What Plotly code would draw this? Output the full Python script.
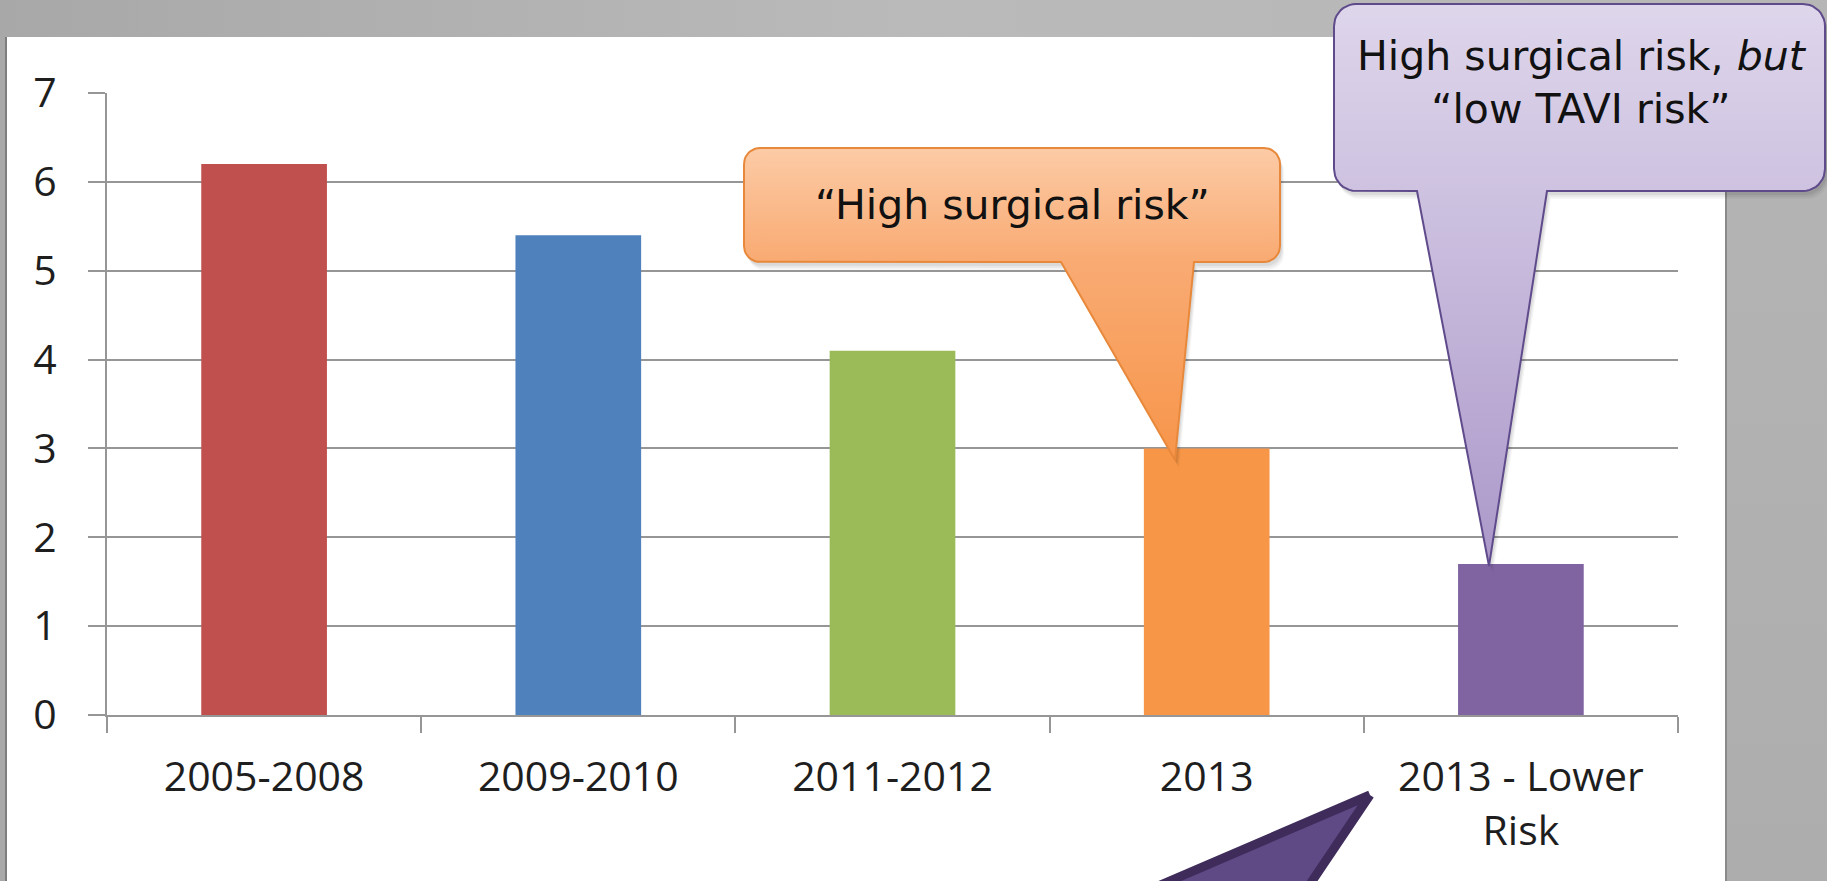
import math
import plotly.graph_objects as go

# ---- chart data ----
categories = ["2005-2008", "2009-2010", "2011-2012", "2013", "2013 - Lower<br>Risk"]
values = [6.2, 5.4, 4.1, 3.0, 1.7]
bar_colors = ["#c0504d", "#4f81bd", "#9bbb59", "#f79646", "#8064a2"]
y_tick_values = [0, 1, 2, 3, 4, 5, 6, 7]

orange_note = "“High surgical risk”"
purple_note = "High surgical risk, <i>but</i><br>“low TAVI risk”"

# ---- page geometry (pixels) ----
W, H = 1827, 881
PLOT_X0, PLOT_X1 = 107, 1678      # value axis / last category boundary
PLOT_Y_TOP, PLOT_Y_BOT = 93, 715  # y = 7 and y = 0
FRAME_RIGHT = 1725                # where the white slide area ends

TICK_FONT = dict(family="Open Sans, Lato, sans-serif", size=41, color="#1e1e1e")
NOTE_FONT = dict(family="DejaVu Sans, Verdana, sans-serif", size=41, color="#111111")


def callout_outline(x0, y0, x1, y1, r, base_l, base_r, tip, n=10):
    """Rounded box with a triangular pointer hanging from its bottom edge."""
    pts = []

    def arc(cx, cy, a0, a1):
        for i in range(n + 1):
            a = a0 + (a1 - a0) * i / n
            pts.append((cx + r * math.cos(a), cy + r * math.sin(a)))

    arc(x0 + r, y0 + r, math.pi, 1.5 * math.pi)
    arc(x1 - r, y0 + r, 1.5 * math.pi, 2 * math.pi)
    arc(x1 - r, y1 - r, 0, 0.5 * math.pi)
    pts.append((base_r, y1))
    pts.append(tip)
    pts.append((base_l, y1))
    arc(x0 + r, y1 - r, 0.5 * math.pi, math.pi)
    pts.append(pts[0])
    return [p[0] for p in pts], [p[1] for p in pts]


fig = go.Figure()

# bars on the main axes
fig.add_trace(go.Bar(
    x=categories, y=values, marker=dict(color=bar_colors, line=dict(width=0)),
    width=0.4, hoverinfo="skip", showlegend=False,
))

# ---- decoration layer in page pixels (x2/y2) ----
def deco(xs, ys, **kw):
    fig.add_trace(go.Scatter(x=xs, y=ys, xaxis="x2", yaxis="y2", mode="lines",
                             hoverinfo="skip", showlegend=False, **kw))

# grey slide frame
deco([0, W, W, 0, 0], [0, 0, 37, 37, 0], fill="toself", line=dict(width=0),
     fillgradient=dict(type="horizontal", start=0, stop=W,
                       colorscale=[[0, "#a8a8a8"], [0.5, "#bababa"], [1, "#b6b6b6"]]))
deco([FRAME_RIGHT, W, W, FRAME_RIGHT, FRAME_RIGHT], [37, 37, H, H, 37], fill="toself",
     line=dict(width=0),
     fillgradient=dict(type="vertical", start=37, stop=H,
                       colorscale=[[0, "#b5b5b5"], [1, "#adadad"]]))
deco([0, 6, 6, 0, 0], [37, 37, H, H, 37], fill="toself", fillcolor="#a9a9a9", line=dict(width=0))
deco([6, 6], [37, H], line=dict(color="#7e7e7e", width=2))
deco([FRAME_RIGHT + 1, FRAME_RIGHT + 1], [37, H], line=dict(color="#8a8a8a", width=2))

# orange callout
ox, oy = callout_outline(744, 148, 1280, 262, 16, 1061, 1194, (1175, 460))
for dx, dy, a in [(2, 4, 0.06), (3, 6, 0.05), (4, 8, 0.04)]:
    deco([v + dx for v in ox], [v + dy for v in oy], fill="toself",
         fillcolor=f"rgba(0,0,0,{a})", line=dict(width=0))
deco(ox, oy, fill="toself", line=dict(color="#e8883a", width=2),
     fillgradient=dict(type="vertical", start=148, stop=460,
                       colorscale=[[0, "#fccba6"], [0.35, "#f9ab74"], [1, "#f7954a"]]))

# purple callout
px_, py_ = callout_outline(1334, 4, 1825, 191, 22, 1417, 1547, (1489, 566))
for dx, dy, a in [(2, 4, 0.06), (3, 6, 0.05), (4, 8, 0.04)]:
    deco([v + dx for v in px_], [v + dy for v in py_], fill="toself",
         fillcolor=f"rgba(0,0,0,{a})", line=dict(width=0))
deco(px_, py_, fill="toself", line=dict(color="#5f4b8b", width=2),
     fillgradient=dict(type="vertical", start=4, stop=566,
                       colorscale=[[0, "#ded6eb"], [0.35, "#cdc1e0"], [1, "#ab98c9"]]))

# dark pointer rising from below the slide
deco([1370, 1296, 1114, 1370], [795, 905, 905, 795], fill="toself",
     fillcolor="#5f4a86", line=dict(color="#3f2c5a", width=9))

fig.add_annotation(x=1012, y=205, xref="x2", yref="y2", text=orange_note,
                   showarrow=False, font=NOTE_FONT, xanchor="center", yanchor="middle")
fig.add_annotation(x=1582, y=82, xref="x2", yref="y2", text=purple_note,
                   showarrow=False, font=NOTE_FONT, xanchor="center", yanchor="middle")

grid_color = "#969696"
fig.update_layout(
    width=W, height=H, margin=dict(l=0, r=0, t=0, b=0, autoexpand=False),
    paper_bgcolor="white", plot_bgcolor="rgba(0,0,0,0)",
    showlegend=False, bargap=0.6,
    xaxis=dict(
        domain=[PLOT_X0 / W, PLOT_X1 / W], type="category", automargin=False,
        showgrid=False, showline=True, linecolor=grid_color, linewidth=2,
        ticks="outside", tickson="boundaries", ticklen=16, tickwidth=2, tickcolor=grid_color,
        tickfont=TICK_FONT, ticklabelstandoff=25, fixedrange=True,
    ),
    yaxis=dict(
        domain=[(H - PLOT_Y_BOT) / H, (H - PLOT_Y_TOP) / H], range=[0, 7], automargin=False,
        tickmode="array", tickvals=y_tick_values,
        showgrid=True, gridcolor=grid_color, gridwidth=2, zeroline=False,
        showline=True, linecolor=grid_color, linewidth=2,
        ticks="outside", ticklen=17, tickwidth=2, tickcolor=grid_color,
        tickfont=TICK_FONT, ticklabelstandoff=23, fixedrange=True,
    ),
    xaxis2=dict(domain=[0, 1], range=[0, W], visible=False, fixedrange=True, automargin=False),
    yaxis2=dict(domain=[0, 1], range=[H, 0], visible=False, fixedrange=True, automargin=False),
)

fig.write_html("out.html")
